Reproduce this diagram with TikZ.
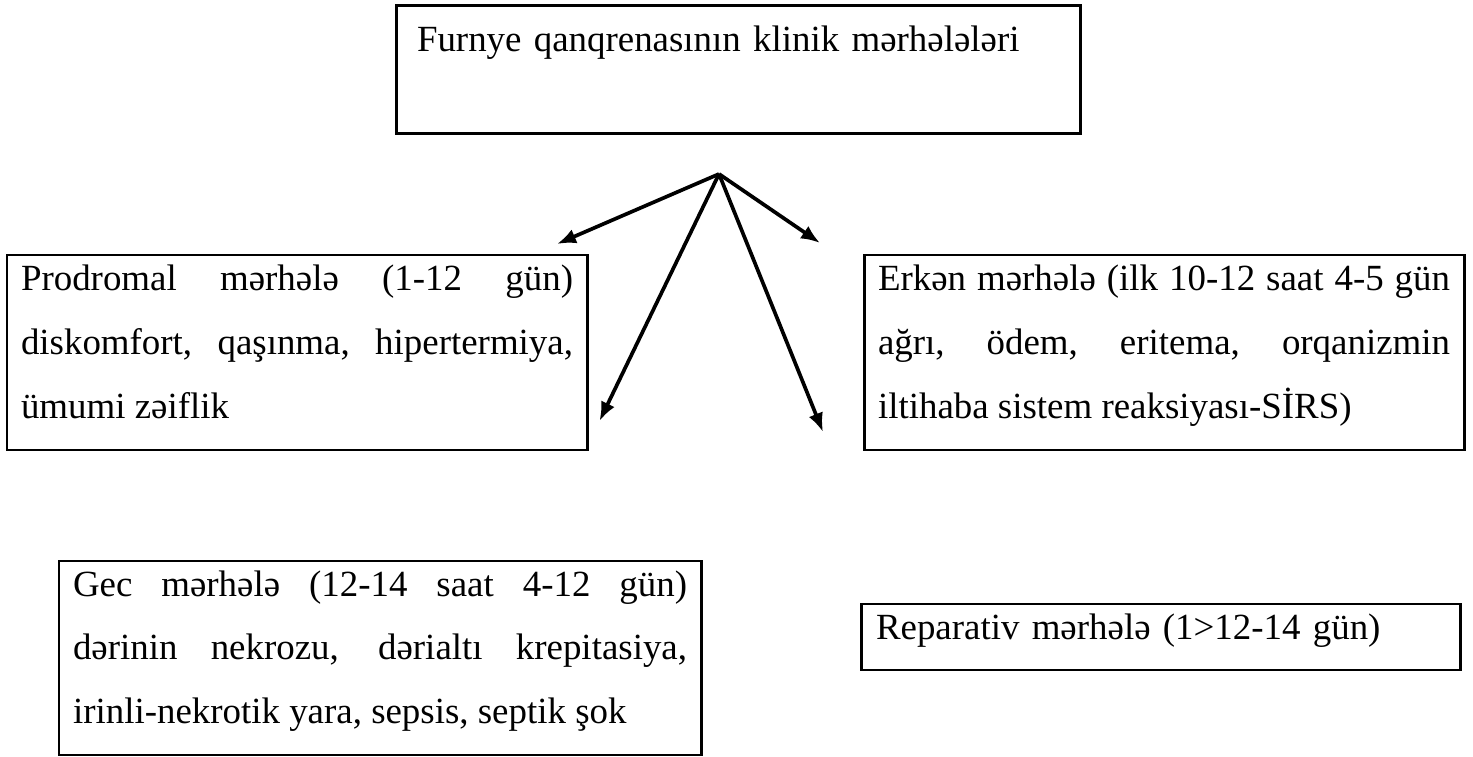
\documentclass[tikz,border=0pt]{standalone}
\usepackage{fontspec}
\setmainfont{Liberation Serif}
\usetikzlibrary{arrows.meta}
\begin{document}
\begin{tikzpicture}
[inner ysep=0pt,outer sep=0pt,
towards/.style={-{Latex[length=1.9mm,width=1.5mm]},line width=1.05pt},
stage/.style={draw,line width=0.85pt,anchor=north west,inner xsep=1.4mm,align=justify,
  font=\fontsize{10.5pt}{18.2pt}\selectfont,text height=3.6mm,text depth=15.9mm},
heading/.style={stage,align=left}]
\useasboundingbox (0,0) rectangle (14.73,-7.57);
\node[heading,text width=6.42cm,inner xsep=2.1mm,text height=4.6mm,text depth=8.2mm] (klinik) at (3.96,-0.06) {Furnye qanqrenasının klinik mərhələləri};
\node[stage,text width=5.52cm] (prodromal) at (0.07,-2.55) {Prodromal mərhələ (1-12 gün)\linebreak diskomfort, qaşınma, hipertermiya,\linebreak ümumi zəiflik};
\node[stage,text width=5.72cm] (erken) at (8.64,-2.55) {Erkən mərhələ (ilk 10-12 saat 4-5 gün\linebreak ağrı, ödem, eritema, orqanizmin\linebreak iltihaba sistem reaksiyası-SİRS)};
\node[stage,text width=6.14cm,text height=3.5mm] (gec) at (0.59,-5.61) {Gec mərhələ (12-14 saat 4-12 gün)\linebreak dərinin nekrozu, dərialtı krepitasiya,\linebreak irinli-nekrotik yara, sepsis, septik şok};
\node[heading,text width=5.69cm,inner xsep=1.5mm,text height=3.5mm,text depth=3.1mm] (reparativ) at (8.61,-6.04) {Reparativ mərhələ (1>12-14 gün)};

\coordinate (apex) at (7.19,-1.74);
\coordinate (prodtip) at (5.57,-2.44);
\coordinate (gectip) at (5.995,-4.21);
\coordinate (reptip) at (8.23,-4.32);
\coordinate (erkentip) at (8.20,-2.43);

\draw [towards] (apex) -- (prodtip);
\draw [towards] (apex) -- (gectip);
\draw [towards] (apex) -- (reptip);
\draw [towards] (apex) -- (erkentip);
\end{tikzpicture}
\end{document}
